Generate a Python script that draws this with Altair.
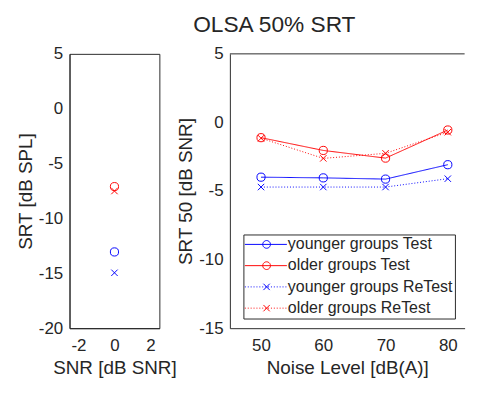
import math
import altair as alt
import pandas as pd

# ---------------- data ----------------
series_names = ["younger groups Test", "older groups Test",
                "younger groups ReTest", "older groups ReTest"]
series_kind = ["Test", "Test", "ReTest", "ReTest"]
series_colors = ["#0000ff", "#ff0000", "#0000ff", "#ff0000"]

noise_levels = [50, 60, 70, 80]
younger_test = [-3.99, -4.04, -4.13, -3.08]
older_test = [-1.11, -2.04, -2.60, -0.55]
younger_retest = [-4.71, -4.71, -4.71, -4.10]
older_retest = [-1.15, -2.62, -2.25, -0.71]

snr_values = [0, 0, 0, 0]
srt_spl_values = [-13.05, -7.10, -14.95, -7.50]

left_x_domain = [-2.5, 2.5]
left_y_domain = [-20, 5]
right_x_domain = [45, 82.7]
right_y_domain = [-15, 5]
left_x_ticks = [-2, 0, 2]
left_y_ticks = [-20, -15, -10, -5, 0, 5]
right_x_ticks = [50, 60, 70, 80]
right_y_ticks = [-15, -10, -5, 0, 5]

right_values = [younger_test, older_test, younger_retest, older_retest]
rows = []
for name, kind, vals in zip(series_names, series_kind, right_values):
    for nl, v in zip(noise_levels, vals):
        rows.append({"series": name, "kind": kind, "noise": nl, "srt": v})
df_right = pd.DataFrame(rows)
df_left = pd.DataFrame({"series": series_names, "kind": series_kind,
                        "snr": snr_values, "srt": srt_spl_values})
df_frame = pd.DataFrame({"srt": [right_y_domain[1]]})

# ---------------- style ----------------
FONT = "Liberation Sans"
TXT = "#262626"
X_PATH = "M-1,-1L1,1M-1,1L1,-1"
MINUS = "replace(datum.label, '\u2212', '-')"
PLOT_H = 284

# legend symbols (units of 2 px with symbol size 16): line + marker
L0, L1, MC = -4.375, 17.375, 6.875
solid_line = f"M{L0},0L{L1},0"
dots = []
p = L0
while p < L1:
    dots.append(f"M{p:.3f},0L{min(p + 0.5, L1):.3f},0")
    p += 1.5
dotted_line = "".join(dots)
npts = 20
circ = "".join(
    ("M" if i == 0 else "L")
    + f"{MC + 2 * math.cos(2 * math.pi * i / npts):.3f},{2 * math.sin(2 * math.pi * i / npts):.3f}"
    for i in range(npts + 1))
xm = 1.65
cross = f"M{MC - xm},{-xm}L{MC + xm},{xm}M{MC - xm},{xm}L{MC + xm},{-xm}"
legend_paths = [solid_line + circ, solid_line + circ,
                dotted_line + cross, dotted_line + cross]

color_scale = alt.Scale(domain=series_names, range=series_colors)

# ---------------- left panel ----------------
color_l = alt.Color("series:N", scale=color_scale, legend=None)
xl = alt.X("snr:Q", scale=alt.Scale(domain=left_x_domain, nice=False, zero=False),
           axis=alt.Axis(values=left_x_ticks, title="SNR [dB SNR]", labelExpr=MINUS))
yl = alt.Y("srt:Q", scale=alt.Scale(domain=left_y_domain, nice=False, zero=False),
           axis=alt.Axis(values=left_y_ticks, title="SRT [dB SPL]", titlePadding=3.5,
                         labelExpr=MINUS))
circ_l = alt.Chart(df_left).transform_filter("datum.kind == 'Test'").mark_point(
    shape="circle", filled=False, size=72, strokeWidth=1, opacity=1).encode(
    x=xl, y=yl, color=color_l)
x_l = alt.Chart(df_left).transform_filter("datum.kind == 'ReTest'").mark_point(
    shape=X_PATH, filled=False, size=44, strokeWidth=1, opacity=1).encode(
    x=xl, y=yl, color=color_l)
left = alt.layer(circ_l, x_l).properties(
    width=93, height=PLOT_H, view=alt.ViewBackground(stroke=TXT, strokeWidth=1))

# ---------------- right panel ----------------
leg = alt.Legend(title=None, orient="bottom-right", offset=10, padding=2,
                 fillColor="white", strokeColor=TXT,
                 labelFont=FONT, labelFontSize=16.5, labelColor=TXT,
                 labelOffset=27.5, labelLimit=400, symbolSize=16,
                 symbolStrokeWidth=1, symbolOpacity=1,
                 symbolFillColor="transparent", rowPadding=5)
color_r = alt.Color("series:N", scale=color_scale, legend=leg)

xr_scale = alt.Scale(domain=right_x_domain, nice=False, zero=False)
yr_scale = alt.Scale(domain=right_y_domain, nice=False, zero=False)
xr = alt.X("noise:Q", scale=xr_scale,
           axis=alt.Axis(values=right_x_ticks, title="Noise Level [dB(A)]"))
yr = alt.Y("srt:Q", scale=yr_scale,
           axis=alt.Axis(values=right_y_ticks, title="SRT 50 [dB SNR]", titlePadding=3.5,
                         labelExpr=MINUS))

frame_top = alt.Chart(df_frame).mark_rule(color=TXT, strokeWidth=1).encode(
    y=alt.Y("srt:Q", scale=yr_scale))
lines = alt.Chart(df_right).mark_line(strokeWidth=1).encode(
    x=xr, y=yr, color=color_r,
    strokeDash=alt.StrokeDash("series:N",
                              scale=alt.Scale(domain=series_names,
                                              range=[[1, 0], [1, 0], [1, 2], [1, 2]]),
                              legend=None))
circ_r = alt.Chart(df_right).transform_filter("datum.kind == 'Test'").mark_point(
    shape="circle", filled=False, size=72, strokeWidth=1, opacity=1).encode(
    x=xr, y=yr, color=color_r)
x_r = alt.Chart(df_right).transform_filter("datum.kind == 'ReTest'").mark_point(
    shape=X_PATH, filled=False, size=44, strokeWidth=1, opacity=1).encode(
    x=xr, y=yr, color=color_r)
legend_layer = alt.Chart(df_right).mark_point(
    filled=False, size=16, strokeWidth=1, opacity=0).encode(
    x=xr, y=yr, color=color_r,
    shape=alt.Shape("series:N", scale=alt.Scale(domain=series_names, range=legend_paths),
                    legend=leg))

right = alt.layer(frame_top, lines, circ_r, x_r, legend_layer).properties(
    width=243, height=PLOT_H)

chart = alt.hconcat(left, right, spacing=73, bounds="flush").resolve_scale(
    color="independent", shape="independent").properties(
    title=alt.TitleParams("OLSA 50% SRT", font=FONT, fontSize=23.5, fontWeight="normal",
                          color=TXT, anchor="middle", frame="bounds", offset=9, dx=27),
    padding={"left": 15, "top": 7, "right": 0, "bottom": 0}
).configure_view(stroke=None).configure_axis(
    labelFont=FONT, labelFontSize=17.5, labelColor=TXT,
    titleFont=FONT, titleFontSize=19.5, titleFontWeight="normal", titleColor=TXT,
    domainColor=TXT, domainWidth=1, grid=False, ticks=False
).configure_axisX(labelPadding=9, titlePadding=5).configure_axisY(labelPadding=7)

chart.save("out.html", embed_options={"renderer": "svg", "actions": False})
